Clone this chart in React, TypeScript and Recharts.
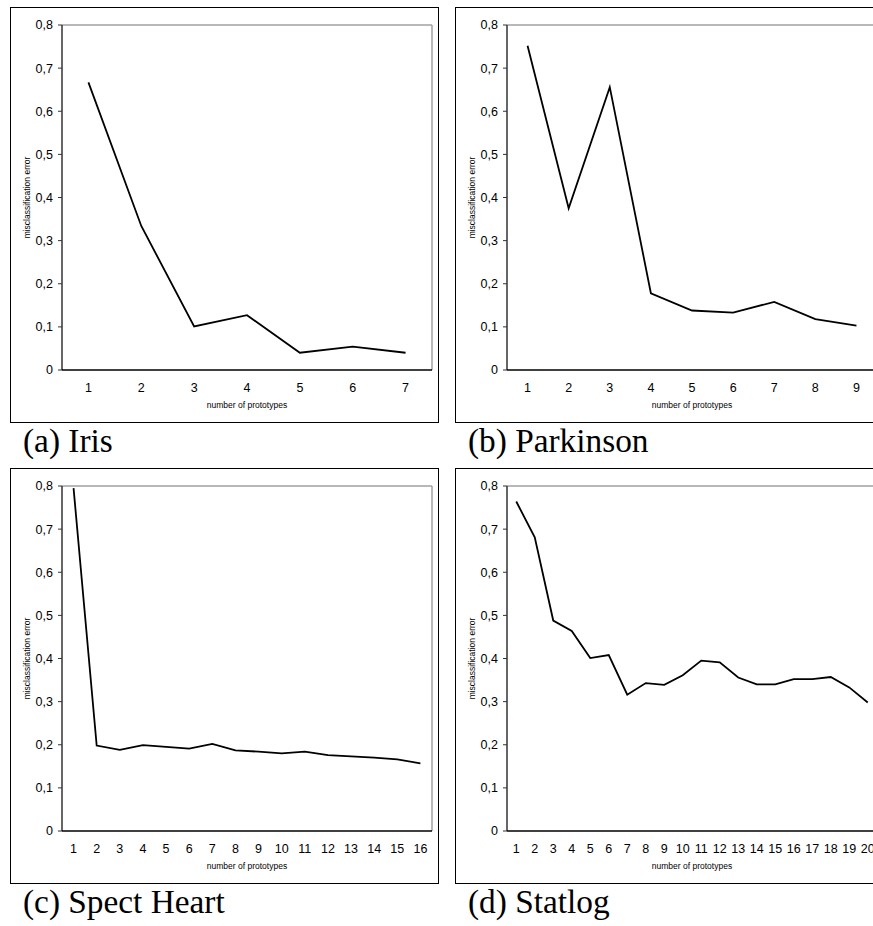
import React from 'react';
import { LineChart, Line, XAxis, YAxis, ReferenceLine, Label } from 'recharts';

// ---- data ----
const irisCounts = [1, 2, 3, 4, 5, 6, 7];
const irisError = [0.667, 0.334, 0.101, 0.127, 0.04, 0.054, 0.04];

const parkinsonCounts = [1, 2, 3, 4, 5, 6, 7, 8, 9];
const parkinsonError = [0.752, 0.375, 0.656, 0.178, 0.138, 0.133, 0.158, 0.118, 0.103];

const spectCounts = [1, 2, 3, 4, 5, 6, 7, 8, 9, 10, 11, 12, 13, 14, 15, 16];
const spectError = [0.795, 0.198, 0.188, 0.199, 0.195, 0.191, 0.202, 0.187, 0.184, 0.18, 0.184, 0.176, 0.173, 0.17, 0.166, 0.157];

const statlogCounts = [1, 2, 3, 4, 5, 6, 7, 8, 9, 10, 11, 12, 13, 14, 15, 16, 17, 18, 19, 20];
const statlogError = [0.764, 0.681, 0.488, 0.464, 0.401, 0.408, 0.316, 0.343, 0.339, 0.361, 0.395, 0.391, 0.356, 0.34, 0.34, 0.352, 0.352, 0.357, 0.333, 0.298];

const yTicks = [0, 0.1, 0.2, 0.3, 0.4, 0.5, 0.6, 0.7, 0.8];

const captions = ['(a) Iris', '(b) Parkinson', '(c) Spect Heart', '(d) Statlog'];
const xTitle = 'number of prototypes';
const yTitle = 'misclassification error';

const SANS = '"Liberation Sans", Arial, sans-serif';
const SERIF = '"Liberation Serif", "Times New Roman", serif';

const PW = 429;
const PH = 416;

type PanelProps = { left: number; top: number; counts: number[]; values: number[]; caption: string };

function Panel({ left, top, counts, values, caption }: PanelProps) {
  const n = counts.length;
  const data = counts.map((c, i) => ({ k: c, err: values[i] }));
  const bounds = counts.map((c) => c - 0.5).concat([counts[n - 1] + 0.5]);
  const domain: [number, number] = [counts[0] - 0.5, counts[n - 1] + 0.5];
  return (
    <>
      <div
        style={{
          position: 'absolute',
          left,
          top,
          width: PW,
          height: PH,
          border: '1.5px solid #000',
          boxSizing: 'border-box',
        }}
      />
      <div style={{ position: 'absolute', left, top, width: PW, height: PH }}>
        <LineChart width={PW} height={PH} data={data} margin={{ top: 18, right: 7, bottom: 51, left: 0 }}>
          <YAxis
            type="number"
            domain={[0, 0.8]}
            ticks={yTicks}
            width={52}
            interval={0}
            allowDataOverflow
            tickSize={4}
            tickMargin={5}
            axisLine={{ stroke: '#333', strokeWidth: 1.5 }}
            tickLine={{ stroke: '#333' }}
            tick={{ fill: '#000', fontSize: 12.5, fontFamily: SANS }}
            tickFormatter={(v: number) => String(Math.round(v * 10) / 10).replace('.', ',')}
          >
            <Label
              value={yTitle}
              angle={-90}
              position="center"
              dx={-9}
              style={{ fontSize: 8.5, fontFamily: SANS, fill: '#000' }}
            />
          </YAxis>
          <XAxis
            xAxisId="grid"
            dataKey="k"
            type="number"
            domain={domain}
            ticks={bounds}
            interval={0}
            allowDataOverflow
            height={1}
            tick={false}
            tickSize={4}
            axisLine={{ stroke: '#000', strokeWidth: 1.5 }}
            tickLine={{ stroke: '#000' }}
          />
          <XAxis
            xAxisId="lbl"
            dataKey="k"
            type="number"
            domain={domain}
            ticks={counts}
            interval={0}
            allowDataOverflow
            height={1}
            axisLine={false}
            tickLine={false}
            tickSize={0}
            tickMargin={12}
            tick={{ fill: '#000', fontSize: 12.5, fontFamily: SANS }}
          >
            <Label
              value={xTitle}
              position="bottom"
              offset={30}
              style={{ fontSize: 8.5, fontFamily: SANS, fill: '#000' }}
            />
          </XAxis>
          <ReferenceLine xAxisId="lbl" y={0.8} stroke="#a0a0a0" strokeWidth={1.5} />
          <ReferenceLine xAxisId="lbl" x={domain[1]} stroke="#a0a0a0" strokeWidth={1.5} />
          <Line
            xAxisId="lbl"
            type="linear"
            dataKey="err"
            stroke="#000"
            strokeWidth={1.8}
            dot={false}
            activeDot={false}
            isAnimationActive={false}
          />
        </LineChart>
      </div>
      <div
        style={{
          position: 'absolute',
          left: left + 13,
          top: top + PH,
          fontFamily: SERIF,
          fontSize: 34,
          lineHeight: '36px',
          color: '#000',
          whiteSpace: 'nowrap',
          transform: 'scaleX(0.98)',
          transformOrigin: 'left top',
        }}
      >
        {caption}
      </div>
    </>
  );
}

export default function App() {
  return (
    <div
      style={{
        position: 'absolute',
        left: 0,
        top: 0,
        width: 873,
        height: 926,
        overflow: 'hidden',
        background: '#fff',
      }}
    >
      <Panel left={10} top={7} counts={irisCounts} values={irisError} caption={captions[0]} />
      <Panel left={455} top={7} counts={parkinsonCounts} values={parkinsonError} caption={captions[1]} />
      <Panel left={10} top={468} counts={spectCounts} values={spectError} caption={captions[2]} />
      <Panel left={455} top={468} counts={statlogCounts} values={statlogError} caption={captions[3]} />
    </div>
  );
}
